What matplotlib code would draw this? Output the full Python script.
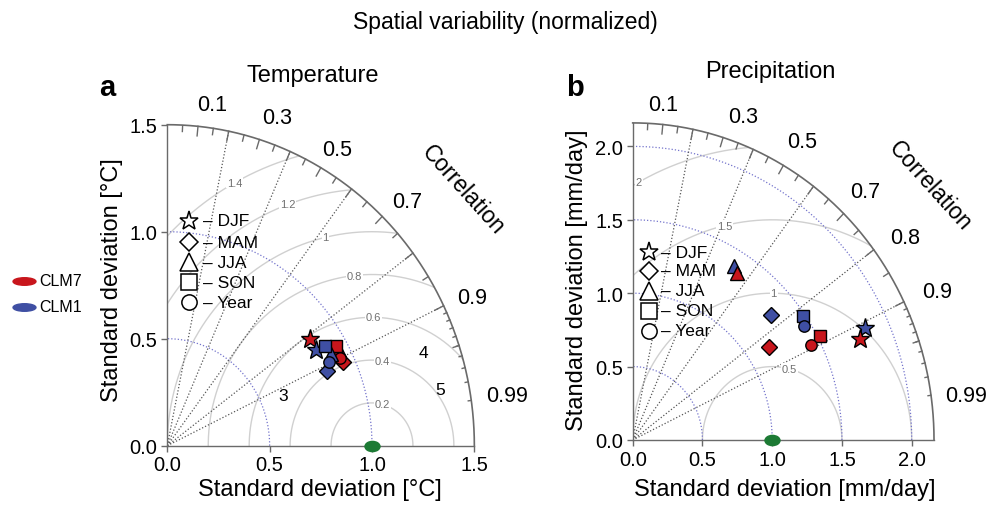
import numpy as np
import matplotlib
matplotlib.use('Agg')
import matplotlib.pyplot as plt
from matplotlib.path import Path
from matplotlib.transforms import Affine2D

plt.rcParams['font.family'] = ['Liberation Sans', 'DejaVu Sans']

# ---------------- data ----------------
seasons = ['DJF', 'MAM', 'JJA', 'SON', 'Year']
season_markers = ['*', 'D', '^', 's', 'o']
models = ['CLM7', 'CLM1']
model_colors = ['#C8161C', '#3F4FA3']

# Temperature (normalized std dev, correlation)
temp_sd_clm7 = [0.857, 0.941, 0.951, 0.947, 0.937]
temp_cor_clm7 = [0.815, 0.910, 0.883, 0.870, 0.899]
temp_sd_clm1 = [0.851, 0.852, 0.907, 0.902, 0.880]
temp_cor_clm1 = [0.852, 0.913, 0.881, 0.855, 0.896]

# Precipitation
prec_sd_clm7 = [1.768, 1.167, 1.363, 1.520, 1.432]
prec_cor_clm7 = [0.921, 0.839, 0.550, 0.884, 0.892]
prec_sd_clm1 = [1.831, 1.307, 1.392, 1.488, 1.454]
prec_cor_clm1 = [0.909, 0.757, 0.523, 0.822, 0.845]

ref_sd = 1.0
temp_maxsd = 1.5
prec_maxsd = 2.16
temp_ticks = [0.0, 0.5, 1.0, 1.5]
prec_ticks = [0.0, 0.5, 1.0, 1.5, 2.0]
temp_gamma = [0.2, 0.4, 0.6, 0.8, 1.0, 1.2, 1.4]
temp_gamma_labels = ['0.2', '0.4', '0.6', '0.8', '1', '1.2', '1.4']
prec_gamma = [0.5, 1.0, 1.5, 2.0]
prec_gamma_labels = ['0.5', '1', '1.5', '2']
corr_lines = [0.2, 0.4, 0.6, 0.8, 0.9]

temp_corr_labels = ['0.1', '0.3', '0.5', '0.7', '0.9', '0.99']
prec_corr_labels = ['0.1', '0.3', '0.5', '0.7', '0.8', '0.9', '0.99']

W, H = 1003, 506
fig = plt.figure(figsize=(W / 100, H / 100), dpi=100)


def fx(px):
    return px / W


def fy(py):
    return 1 - py / H


GRAY = '#6a6a6a'


def taylor(ax, maxsd, ticks, gammas, gamma_labels):
    ax.set_xlim(0, maxsd)
    ax.set_ylim(0, maxsd)
    for s in ['top', 'right']:
        ax.spines[s].set_visible(False)
    for s in ['left', 'bottom']:
        ax.spines[s].set_color(GRAY)
        ax.spines[s].set_linewidth(1.0)
    ax.set_xticks(ticks)
    ax.set_yticks(ticks)
    ax.set_xticklabels(['%.1f' % t for t in ticks])
    ax.set_yticklabels(['%.1f' % t for t in ticks])
    ax.tick_params(labelsize=14.5, length=4, color=GRAY, width=1, pad=3)
    ax.patch.set_visible(False)

    t = np.linspace(0, np.pi / 2, 300)
    # std-dev arcs (blue dotted)
    for r in ticks[1:]:
        if r < maxsd - 1e-6:
            ax.plot(r * np.cos(t), r * np.sin(t), color='#7474cc', lw=0.9,
                    ls=(0, (1, 1.6)), zorder=2)
    # outer arc
    ax.plot(maxsd * np.cos(t), maxsd * np.sin(t), color=GRAY, lw=1.2,
            clip_on=False, zorder=3)
    # RMS curves
    tt = np.linspace(0, np.pi, 1200)
    labelpos = np.linspace(45, 70, len(gammas)).astype(int)
    for g, lab, lp in zip(gammas, gamma_labels, labelpos):
        x = ref_sd + g * np.cos(tt)
        y = g * np.sin(tt)
        m = (x >= 0) & (x ** 2 + y ** 2 <= maxsd ** 2)
        ax.plot(x[m], y[m], color='#d0d0d0', lw=1.0, zorder=1)
        ang = (lp - 1) * 0.03
        lx, ly = ref_sd + g * np.cos(ang), g * np.sin(ang)
        if lx > 0:
            ax.text(lx, ly, lab, fontsize=8, color='#707070', ha='center',
                    va='center', zorder=4,
                    bbox=dict(facecolor='white', edgecolor='none', pad=0.6))
    # correlation rays
    for c in corr_lines:
        ax.plot([0, maxsd * c], [0, maxsd * np.sqrt(1 - c ** 2)],
                color='#555555', lw=0.9, ls=(0, (1, 1.6)), zorder=2)
    # ticks on outer arc
    for vals, frac in [(np.arange(0.1, 0.91, 0.1), 0.97),
                       (np.arange(0.05, 0.96, 0.1), 0.98),
                       (np.arange(0.91, 0.995, 0.01), 0.99)]:
        for v in vals:
            a = np.arccos(v)
            ax.plot([maxsd * np.cos(a), frac * maxsd * np.cos(a)],
                    [maxsd * np.sin(a), frac * maxsd * np.sin(a)],
                    color=GRAY, lw=1.0, zorder=3)
    # reference point
    ell = Path(Affine2D().scale(1, 0.68).transform(Path.unit_circle().vertices),
               Path.unit_circle().codes)
    ax.plot([ref_sd], [0], marker=ell, ms=10.8, color='#1C7A34', mec='#1C7A34',
            clip_on=False, zorder=6)


def points(ax, sds, cors, color):
    sizes = {'*': 14, 'D': 8.4, '^': 10.5, 's': 8.2, 'o': 8.2}
    for sd, c, mk in zip(sds, cors, season_markers):
        x = sd * c
        y = sd * np.sqrt(1 - c ** 2)
        ax.plot([x], [y], marker=mk, ms=sizes[mk], mfc=color, mec='black',
                mew=1.0, ls='none', zorder=7, clip_on=False)


axL = fig.add_axes([fx(167.3), fy(446.7), 1.5 * 204.7 / W, 1.5 * 214 / H])
taylor(axL, temp_maxsd, temp_ticks, temp_gamma, temp_gamma_labels)
points(axL, temp_sd_clm7, temp_cor_clm7, model_colors[0])
points(axL, temp_sd_clm1, temp_cor_clm1, model_colors[1])

axR = fig.add_axes([fx(632.7), fy(441), 2.16 * 139.5 / W, 2.16 * 146.8 / H])
taylor(axR, prec_maxsd, prec_ticks, prec_gamma, prec_gamma_labels)
points(axR, prec_sd_clm1, prec_cor_clm1, model_colors[1])
points(axR, prec_sd_clm7, prec_cor_clm7, model_colors[0])

# overlay in pixel coordinates for annotations
ov = fig.add_axes([0, 0, 1, 1], zorder=10)
ov.set_xlim(0, W)
ov.set_ylim(H, 0)
ov.axis('off')
ov.patch.set_visible(False)

ov.text(505, 22, 'Spatial variability (normalized)', fontsize=16.5,
        ha='center', va='center')
ov.text(107, 88, 'a', fontsize=21, fontweight='bold', ha='center', va='center')
ov.text(575, 88, 'b', fontsize=21, fontweight='bold', ha='center', va='center')
ov.text(313, 76, 'Temperature', fontsize=17, ha='center', va='center')
ov.text(770, 72, 'Precipitation', fontsize=17, ha='center', va='center')

ov.text(320, 490, 'Standard deviation [°C]', fontsize=17, ha='center', va='center')
ov.text(785, 490, 'Standard deviation [mm/day]', fontsize=17, ha='center', va='center')
ov.text(112, 280, 'Standard deviation [°C]', fontsize=17, ha='center',
        va='center', rotation=90)
ov.text(577, 280, 'Standard deviation [mm/day]', fontsize=17, ha='center',
        va='center', rotation=90)

# correlation labels
temp_corr_pos = [(212, 105), (277, 118), (337, 150), (407, 202), (472, 298), (507, 397)]
prec_corr_pos = [(663, 105), (743, 117), (802, 142), (865, 193), (905, 238), (937, 292), (966, 397)]
for lab, (x, y) in zip(temp_corr_labels, temp_corr_pos):
    ov.text(x, y, lab, fontsize=15.5, ha='center', va='center')
for lab, (x, y) in zip(prec_corr_labels, prec_corr_pos):
    ov.text(x, y, lab, fontsize=15.5, ha='center', va='center')
ov.text(463, 190, 'Correlation', fontsize=16.5, ha='center', va='center',
        rotation=-48, rotation_mode='anchor')
ov.text(930, 186, 'Correlation', fontsize=16.5, ha='center', va='center',
        rotation=-48, rotation_mode='anchor')

for lab, (x, y) in zip(['3', '4', '5'], [(283, 397), (423, 354), (440, 391)]):
    ov.text(x, y, lab, fontsize=12.5, ha='center', va='center')

# season legends
leg_sizes = {'*': 14, 'D': 9, '^': 12.5, 's': 11, 'o': 11}
for mx, tx, rows in [(189, 203, [222, 243, 263, 283, 303]),
                     (649, 661, [253, 272, 292, 312, 332])]:
    for mk, s, y in zip(season_markers, seasons, rows):
        ov.plot([mx], [y], marker=mk, ms=leg_sizes[mk], mfc='white',
                mec='black', mew=1.1, ls='none')
        ov.text(tx, y, '– ' + s, fontsize=12.5, ha='left', va='center')

# model legend
ell2 = Path(Affine2D().scale(1, 0.33).transform(Path.unit_circle().vertices),
            Path.unit_circle().codes)
for name, col, y in zip(models, model_colors, [282, 308]):
    ov.plot([24], [y], marker=ell2, ms=16.5, color=col, mec=col, ls='none')
    ov.text(39, y, name, fontsize=11.5, ha='left', va='center')

fig.savefig('out.png', dpi=100)
